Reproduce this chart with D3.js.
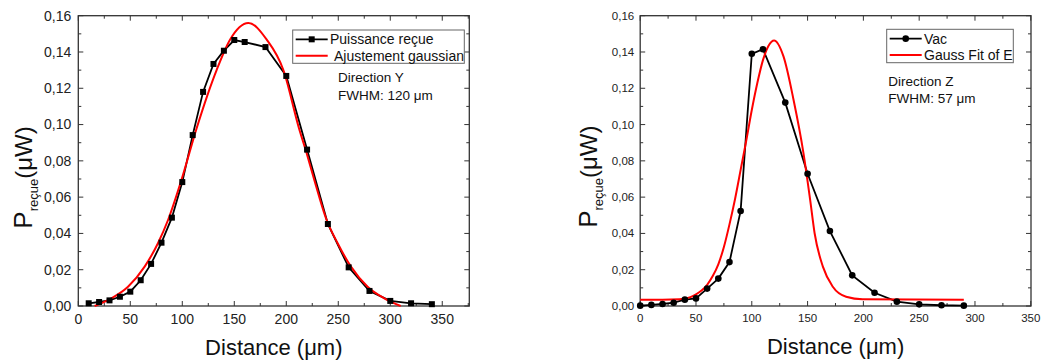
<!DOCTYPE html>
<html><head><meta charset="utf-8">
<script src="https://cdn.jsdelivr.net/npm/d3@7"></script>
<style>body{margin:0;background:#fff}svg{display:block;font-family:"Liberation Sans",Arial,sans-serif}</style>
</head><body>
<svg id="c" width="1045" height="363"></svg>
<script>
// ---- data ----
const leftX = [10,20,30,40,50,60,70,80,90,100,110,120,130,140,150,160,180,200,220,240,260,280,300,320,340];
const leftY = [0.0015,0.0022,0.0031,0.0051,0.0079,0.0142,0.0232,0.0349,0.0487,0.0683,0.0942,0.118,0.1334,0.1407,0.1466,0.1455,0.1427,0.1268,0.0862,0.0452,0.0213,0.0083,0.0028,0.0015,0.0010];
const leftFitX = [15.7,31.7,47.8,63.8,76.6,86.3,100,113.8,133.1,145.9,163.5,181.2,197.1,212.2,219.6,226.2,238.8,249.4,262.2,278.2,294.3,310];
const leftFitY = [0,0.0042,0.0106,0.0217,0.0346,0.0474,0.071,0.098,0.1302,0.1468,0.156,0.1468,0.1302,0.098,0.0842,0.071,0.0474,0.0346,0.0217,0.0106,0.0042,0];

const rightX = [0,10,20,30,40,50,60,70,80,90,100,110,130,150,170,190,210,230,250,270,290];
const rightY = [0.0002,0.0006,0.0011,0.0018,0.0035,0.0042,0.0096,0.0151,0.0242,0.0524,0.139,0.1415,0.1121,0.0729,0.0413,0.0169,0.0073,0.0024,0.0009,0.0004,0.0002];
const rightFitX = [0,20,35,45,50,55,60,65,70,75,80,85,90,95,100,105,110,115,120,128.4,137.4,146.3,152.3,156.3,163.7,172.6,184.5,199.4,290];
const rightFitY = [0.0035,0.0035,0.0037,0.0049,0.0064,0.0085,0.0117,0.0165,0.023,0.0325,0.045,0.059,0.075,0.091,0.108,0.123,0.1355,0.1435,0.1464,0.1376,0.1137,0.0843,0.0585,0.0401,0.0217,0.0106,0.0051,0.0037,0.0035];

const xTicks = [0,50,100,150,200,250,300,350];
const yTicks = [0,0.02,0.04,0.06,0.08,0.10,0.12,0.14,0.16];
const legendLeft = ["Puissance reçue","Ajustement gaussian"];
const legendRight = ["Vac","Gauss Fit of E"];
const noteLeft = ["Direction Y","FWHM: 120 μm"];
const noteRight = ["Direction Z","FWHM: 57 μm"];

const svg = d3.select("#c");
const fmt = v => d3.format(".2f")(v).replace(".", ",");

function panel(o){
  const g = svg.append("g");
  const x = d3.scaleLinear().domain(o.xDomain).range([o.x0,o.x1]);
  const y = d3.scaleLinear().domain([0,0.16]).range([o.y1,o.y0]);
  const minorX = d3.range(0, o.xDomain[1]+0.01, 25);
  const minorY = d3.range(0, 0.1601, 0.01);
  const axCol = "#333";
  g.append("rect").attr("x",o.x0).attr("y",o.y0).attr("width",o.x1-o.x0).attr("height",o.y1-o.y0)
    .attr("fill","none").attr("stroke",axCol).attr("stroke-width",1.3);
  minorX.forEach(v=>{
    const major = Math.abs(v%50)<1e-6; const L = major?5:3;
    g.append("line").attr("x1",x(v)).attr("x2",x(v)).attr("y1",o.y1).attr("y2",o.y1-L).attr("stroke",axCol).attr("stroke-width",1);
    g.append("line").attr("x1",x(v)).attr("x2",x(v)).attr("y1",o.y0).attr("y2",o.y0+L).attr("stroke",axCol).attr("stroke-width",1);
  });
  minorY.forEach((v,i)=>{
    const major = i%2===0; const L = major?5:3;
    g.append("line").attr("x1",o.x0).attr("x2",o.x0+L).attr("y1",y(v)).attr("y2",y(v)).attr("stroke",axCol).attr("stroke-width",1);
    g.append("line").attr("x1",o.x1).attr("x2",o.x1-L).attr("y1",y(v)).attr("y2",y(v)).attr("stroke",axCol).attr("stroke-width",1);
  });
  xTicks.filter(v=>v<=o.xDomain[1]).forEach(v=>{
    g.append("text").attr("x",x(v)).attr("y",o.xLabY).attr("text-anchor","middle")
      .attr("font-size",o.tickFont).attr("fill","#222").text(v);
  });
  yTicks.forEach(v=>{
    g.append("text").attr("x",o.x0-o.yLabGap).attr("y",y(v)).attr("dy","0.35em").attr("text-anchor","end")
      .attr("font-size",o.tickFont).attr("fill","#222").text(fmt(v));
  });
  g.append("text").attr("x",(o.x0+o.x1)/2).attr("y",o.xTitleY).attr("text-anchor","middle")
    .attr("font-size",22).attr("fill","#111").text("Distance (μm)");
  const yt = g.append("text").attr("transform",`translate(${o.yTitleX},${o.yTitleC}) rotate(-90)`)
    .attr("text-anchor","middle").attr("fill","#111");
  yt.append("tspan").attr("font-size",26).text("P");
  yt.append("tspan").attr("font-size",13).attr("dy",6).text("reçue");
  yt.append("tspan").attr("font-size",24).attr("dy",-6).text("(μW)");

  const fitPts = o.fitX.map((v,i)=>[v,o.fitY[i]]);
  const dataPts = o.dataX.map((v,i)=>[v,o.dataY[i]]);
  const line = d3.line().x(d=>x(d[0])).y(d=>y(d[1]));
  g.append("path").datum(dataPts).attr("d",line).attr("fill","none").attr("stroke","#000").attr("stroke-width",1.8);
  g.append("path").datum(fitPts).attr("d",line.curve(d3.curveMonotoneX)).attr("fill","none").attr("stroke","#f00").attr("stroke-width",2);
  if(o.marker==="square"){
    g.selectAll(null).data(dataPts).join("rect").attr("x",d=>x(d[0])-3).attr("y",d=>y(d[1])-3)
      .attr("width",6).attr("height",6).attr("fill","#000");
  } else {
    g.selectAll(null).data(dataPts).join("circle").attr("cx",d=>x(d[0])).attr("cy",d=>y(d[1])).attr("r",3.3).attr("fill","#000");
  }
  const L = o.legend;
  g.append("rect").attr("x",L.x).attr("y",L.y).attr("width",L.w).attr("height",L.h)
    .attr("fill","#fff").attr("stroke","#666").attr("stroke-width",1);
  const r1 = L.y+L.h*0.28, r2 = L.y+L.h*0.77;
  g.append("line").attr("x1",L.x+3).attr("x2",L.x+3+L.sw).attr("y1",r1).attr("y2",r1).attr("stroke","#000").attr("stroke-width",1.8);
  if(o.marker==="square"){
    g.append("rect").attr("x",L.x+3+L.sw/2-3).attr("y",r1-3).attr("width",6).attr("height",6).attr("fill","#000");
  } else {
    g.append("circle").attr("cx",L.x+3+L.sw/2).attr("cy",r1).attr("r",3.3).attr("fill","#000");
  }
  g.append("line").attr("x1",L.x+3).attr("x2",L.x+3+L.sw).attr("y1",r2).attr("y2",r2).attr("stroke","#f00").attr("stroke-width",2);
  g.append("text").attr("x",L.tx1).attr("y",r1).attr("dy","0.35em").attr("font-size",14).attr("fill","#111").text(o.legendText[0]);
  g.append("text").attr("x",L.tx2).attr("y",r2).attr("dy","0.35em").attr("font-size",14).attr("fill","#111").text(o.legendText[1]);
  g.append("text").attr("x",o.note.x).attr("y",o.note.y1).attr("font-size",13.5).attr("fill","#111").text(o.noteText[0]);
  g.append("text").attr("x",o.note.x).attr("y",o.note.y2).attr("font-size",13.5).attr("fill","#111").text(o.noteText[1]);
}

panel({
  x0:78.3, x1:469.3, y0:15.7, y1:306, xDomain:[0,376],
  tickFont:14, xLabY:324, yLabGap:7, xTitleY:355, yTitleX:32, yTitleC:177.5,
  dataX:leftX, dataY:leftY, fitX:leftFitX, fitY:leftFitY, marker:"square",
  legend:{x:292.7,y:30,w:171.6,h:33.3,sw:32,tx1:330,tx2:334},
  legendText:legendLeft, noteText:noteLeft, note:{x:338,y1:82,y2:99.5}
});
panel({
  x0:640.2, x1:1031, y0:15.7, y1:306, xDomain:[0,350.2],
  tickFont:11.5, xLabY:322, yLabGap:6, xTitleY:354, yTitleX:597, yTitleC:176.7,
  dataX:rightX, dataY:rightY, fitX:rightFitX, fitY:rightFitY, marker:"circle",
  legend:{x:886.7,y:29.3,w:126.6,h:33.4,sw:32,tx1:924,tx2:924},
  legendText:legendRight, noteText:noteRight, note:{x:888.3,y1:85.5,y2:102.5}
});
</script>
</body></html>
